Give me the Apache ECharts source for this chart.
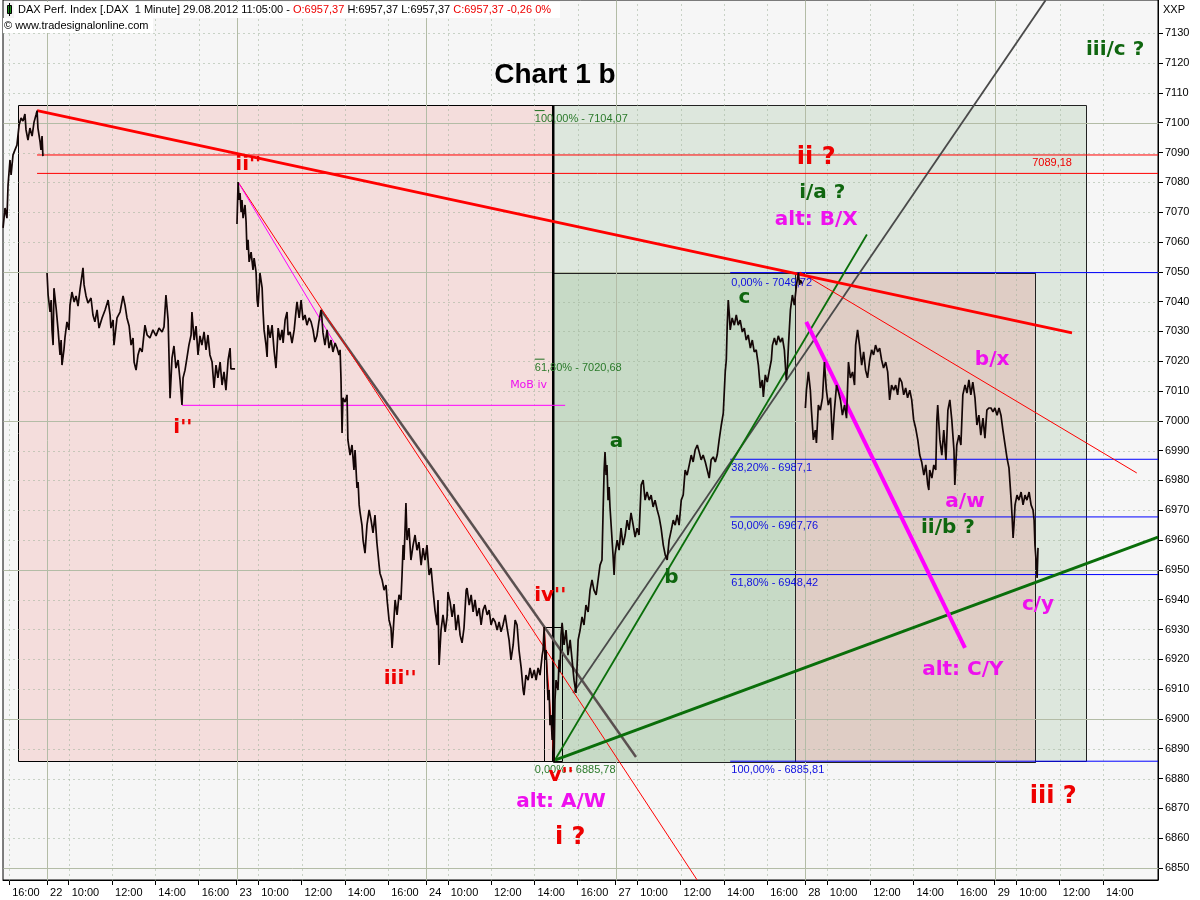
<!DOCTYPE html>
<html><head><meta charset="utf-8">
<script src="https://cdn.jsdelivr.net/npm/echarts@6/dist/echarts.min.js"></script>
<style>html,body{margin:0;padding:0;background:#fff}#c{width:1200px;height:900px}</style>
</head><body><div id="c"></div>
<script>
// ---- time scale: trading hours since 21.08 09:00, one session = 8.75 h ----
const SESSION = 8.75;
const sessionDays = ['21','22','23','24','27','28','29'];
function toT(s){const [d,hm]=s.split(' ');const [h,m]=hm.split(':').map(Number);return sessionDays.indexOf(d)*SESSION+h+m/60-9;}

const xTickTimes = ['21 16:00','22 09:00','22 10:00','22 12:00','22 14:00','22 16:00','23 09:00','23 10:00','23 12:00','23 14:00','23 16:00','24 09:00','24 10:00','24 12:00','24 14:00','24 16:00','27 09:00','27 10:00','27 12:00','27 14:00','27 16:00','28 09:00','28 10:00','28 12:00','28 14:00','28 16:00','29 09:00','29 10:00','29 12:00','29 14:00'];
const xTickLabels = ['16:00','22','10:00','12:00','14:00','16:00','23','10:00','12:00','14:00','16:00','24','10:00','12:00','14:00','16:00','27','10:00','12:00','14:00','16:00','28','10:00','12:00','14:00','16:00','29','10:00','12:00','14:00'];
const yTicks = [6850,6860,6870,6880,6890,6900,6910,6920,6930,6940,6950,6960,6970,6980,6990,7000,7010,7020,7030,7040,7050,7060,7070,7080,7090,7100,7110,7120,7130];

const T_MIN = 6.717, T_MAX = 60.04, P_MIN = 6845.96, P_MAX = 7141.17;

// ---- price (t = trading hours, price) ----
const price21 = [[6.72,7064.7],[6.81,7071.4],[6.90,7068.0],[6.95,7079.1],[7.04,7087.5],[7.09,7082.5],[7.18,7089.2],[7.27,7090.9],[7.36,7092.5],[7.46,7099.2],[7.55,7101.6],[7.64,7100.6],[7.73,7102.9],[7.78,7097.6],[7.87,7094.2],[7.96,7098.2],[8.06,7095.5],[8.15,7100.2],[8.24,7102.6],[8.29,7104.07],[8.33,7098.2],[8.43,7093.5],[8.47,7090.9],[8.52,7095.5],[8.56,7088.8]];
const price22 = [[8.75,7049.6],[8.80,7042.2],[8.89,7036.5],[8.94,7040.5],[8.98,7030.5],[9.03,7025.4],[9.07,7044.5],[9.17,7037.8],[9.26,7030.5],[9.35,7022.1],[9.40,7027.1],[9.44,7018.7],[9.53,7023.8],[9.58,7028.1],[9.67,7033.2],[9.76,7030.5],[9.81,7038.8],[9.90,7043.2],[10.00,7039.9],[10.09,7041.9],[10.18,7038.5],[10.27,7043.9],[10.41,7051.3],[10.46,7045.6],[10.55,7041.9],[10.64,7039.5],[10.78,7041.2],[10.87,7035.5],[10.96,7033.2],[11.06,7037.2],[11.15,7031.1],[11.29,7034.5],[11.43,7037.2],[11.57,7040.5],[11.66,7035.5],[11.70,7031.1],[11.80,7033.8],[11.84,7025.4],[11.98,7034.5],[12.12,7036.5],[12.26,7041.9],[12.35,7038.8],[12.44,7034.5],[12.54,7031.8],[12.63,7025.4],[12.72,7027.8],[12.77,7019.7],[12.86,7017.0],[12.95,7022.1],[13.04,7024.4],[13.14,7023.1],[13.27,7032.1],[13.37,7028.8],[13.50,7027.8],[13.64,7030.5],[13.78,7028.5],[13.92,7031.1],[14.06,7029.8],[14.15,7031.5],[14.24,7042.2],[14.34,7033.8],[14.43,7007.6],[14.52,7021.1],[14.61,7025.1],[14.70,7017.7],[14.80,7020.4],[14.89,7013.7],[14.98,7005.3],[15.03,7014.4],[15.12,7017.0],[15.21,7021.1],[15.30,7025.4],[15.40,7028.8],[15.44,7036.5],[15.54,7027.1],[15.63,7031.8],[15.72,7022.1],[15.81,7028.5],[15.90,7025.4],[16.00,7029.8],[16.09,7023.8],[16.18,7028.8],[16.27,7022.1],[16.37,7019.7],[16.46,7011.0],[16.55,7018.7],[16.64,7014.4],[16.74,7019.7],[16.83,7012.0],[16.92,7016.4],[17.01,7010.3],[17.11,7020.4],[17.20,7024.4],[17.24,7017.4],[17.43,7017.4]];
const price23_24 = [[17.52,7066.0],[17.57,7080.1],[17.62,7074.1],[17.66,7076.4],[17.71,7070.0],[17.75,7074.1],[17.80,7068.0],[17.89,7072.4],[17.94,7066.7],[17.98,7057.3],[18.03,7060.7],[18.08,7053.3],[18.17,7056.6],[18.26,7050.6],[18.31,7054.6],[18.40,7049.9],[18.45,7040.5],[18.49,7038.2],[18.54,7043.9],[18.58,7049.6],[18.68,7044.6],[18.72,7037.2],[18.77,7030.5],[18.86,7025.4],[18.91,7021.4],[18.95,7032.1],[19.05,7027.8],[19.14,7032.1],[19.23,7023.8],[19.32,7017.7],[19.42,7031.1],[19.51,7027.1],[19.60,7030.5],[19.65,7026.1],[19.74,7033.8],[19.83,7036.5],[19.88,7028.8],[19.97,7029.8],[20.06,7026.1],[20.16,7030.5],[20.25,7037.2],[20.29,7039.9],[20.39,7034.5],[20.48,7040.5],[20.57,7033.8],[20.66,7035.5],[20.75,7032.1],[20.85,7034.5],[20.94,7033.2],[21.03,7030.5],[21.12,7026.4],[21.21,7028.5],[21.30,7033.2],[21.40,7037.2],[21.44,7034.5],[21.49,7029.5],[21.58,7025.4],[21.68,7030.5],[21.77,7024.4],[21.86,7027.1],[21.95,7023.1],[22.05,7026.1],[22.14,7024.4],[22.23,7022.1],[22.28,7023.8],[22.32,7014.4],[22.37,6995.9],[22.41,7007.7],[22.51,7006.3],[22.60,7008.7],[22.64,6993.6],[22.74,6988.5],[22.83,6991.9],[22.92,6983.5],[22.97,6990.2],[23.06,6977.5],[23.11,6979.5],[23.16,6971.8],[23.20,6969.4],[23.29,6965.0],[23.34,6960.0],[23.43,6955.6],[23.52,6965.0],[23.62,6970.1],[23.71,6966.7],[23.80,6962.4],[23.89,6968.4],[23.98,6959.0],[24.08,6951.6],[24.12,6948.9],[24.22,6946.6],[24.31,6943.2],[24.40,6944.9],[24.45,6939.9],[24.54,6933.2],[24.63,6930.5],[24.68,6923.8],[24.72,6928.1],[24.82,6939.9],[24.91,6934.9],[25.00,6941.6],[25.09,6939.9],[25.14,6948.3],[25.19,6958.3],[25.23,6953.3],[25.32,6972.4],[25.37,6960.0],[25.46,6964.0],[25.55,6953.3],[25.65,6958.3],[25.74,6961.7],[25.83,6956.6],[25.92,6959.3],[26.02,6951.6],[26.11,6957.3],[26.20,6953.3],
[26.29,6958.3],[26.39,6948.3],[26.48,6950.6],[26.57,6943.2],[26.66,6936.5],[26.76,6931.5],[26.80,6939.9],[26.85,6918.1],[26.94,6929.8],[27.03,6934.9],[27.13,6929.2],[27.22,6934.2],[27.26,6942.6],[27.36,6939.2],[27.45,6934.2],[27.54,6938.5],[27.63,6929.8],[27.73,6934.9],[27.82,6928.1],[27.91,6925.5],[28.00,6930.5],[28.10,6943.2],[28.14,6943.9],[28.24,6938.2],[28.33,6941.6],[28.42,6935.9],[28.51,6939.9],[28.60,6934.5],[28.70,6937.2],[28.79,6931.5],[28.88,6936.5],[28.97,6938.2],[29.07,6934.9],[29.16,6936.5],[29.25,6931.5],[29.34,6933.8],[29.44,6932.5],[29.53,6929.8],[29.62,6932.5],[29.71,6929.2],[29.80,6931.5],[29.90,6934.9],[29.99,6930.5],[30.08,6926.5],[30.17,6919.8],[30.27,6924.8],[30.36,6933.2],[30.45,6931.5],[30.54,6923.1],[30.64,6917.1],[30.73,6909.7],[30.77,6908.0],[30.86,6914.7],[30.96,6913.0],[31.05,6917.1],[31.14,6913.7],[31.24,6916.4],[31.33,6913.0],[31.42,6917.1],[31.51,6914.7],[31.61,6921.4],[31.65,6923.1],[31.70,6930.8],[31.74,6919.8],[31.79,6923.1],[31.84,6913.0],[31.88,6906.3],[31.93,6909.7],[31.97,6897.9],[32.02,6901.3],[32.07,6892.9],[32.11,6896.3],[32.16,6885.8],[32.20,6906.3],[32.25,6913.0],[32.34,6909.7],[32.39,6919.8],[32.43,6915.7],[32.48,6928.1],[32.53,6932.2],[32.62,6924.8],[32.71,6929.8],[32.80,6921.4],[32.90,6926.5],[32.99,6919.8],[33.08,6913.0],[33.17,6908.7],[33.27,6926.5],[33.36,6929.8],[33.45,6934.2],[33.54,6931.5],[33.63,6938.2],[33.73,6935.9],[33.82,6943.2],[33.91,6946.6],[34.00,6943.2],[34.10,6941.6],[34.19,6946.6],[34.28,6951.6],[34.37,6953.3],[34.42,6969.1],[34.47,6983.5],[34.51,6989.5],[34.56,6981.8],[34.60,6985.2],[34.65,6973.4],[34.70,6977.8],[34.74,6971.1],[34.83,6971.1]];
const price27 = [[34.88,6955.0],[34.93,6948.3],[34.97,6955.0],[35.07,6960.0],[35.16,6956.6],[35.25,6964.0],[35.34,6958.3],[35.44,6961.7],[35.53,6966.7],[35.62,6963.4],[35.71,6969.1],[35.81,6965.0],[35.90,6961.0],[35.99,6964.0],[36.08,6961.7],[36.18,6978.5],[36.27,6980.1],[36.36,6973.4],[36.45,6976.1],[36.55,6973.4],[36.64,6975.1],[36.73,6971.1],[36.82,6973.4],[36.92,6970.1],[37.01,6967.7],[37.10,6964.0],[37.20,6958.3],[37.29,6955.0],[37.38,6953.3],[37.47,6960.0],[37.57,6963.4],[37.66,6966.7],[37.75,6965.0],[37.84,6968.4],[37.93,6965.0],[38.03,6973.4],[38.12,6975.1],[38.21,6983.5],[38.30,6981.8],[38.40,6985.2],[38.49,6988.5],[38.58,6986.2],[38.67,6990.2],[38.77,6991.9],[38.86,6989.5],[38.95,6986.9],[39.04,6988.5],[39.14,6986.2],[39.23,6983.5],[39.32,6980.8],[39.41,6986.9],[39.51,6987.9],[39.60,6986.2],[39.69,6988.5],[39.78,6993.6],[39.88,6998.6],[39.97,7002.6],[40.06,7016.4],[40.11,7020.4],[40.15,7031.5],[40.20,7040.5],[40.25,7035.5],[40.29,7030.5],[40.38,7034.5],[40.48,7032.1],[40.57,7035.5],[40.66,7032.1],[40.75,7033.8],[40.85,7029.8],[40.94,7031.1],[41.03,7027.1],[41.12,7028.8],[41.22,7024.4],[41.31,7027.1],[41.40,7023.1],[41.49,7023.8],[41.59,7018.7],[41.68,7011.0],[41.77,7013.7],[41.82,7008.0],[41.91,7015.4],[42.00,7013.0],[42.10,7017.0],[42.19,7020.4],[42.24,7025.4],[42.33,7027.8],[42.42,7025.4],[42.51,7028.5],[42.61,7026.4],[42.70,7027.8],[42.79,7023.8],[42.88,7013.7],[42.93,7017.7],[42.98,7025.4],[43.07,7037.2],[43.16,7042.2],[43.25,7038.8],[43.35,7045.6],[43.44,7049.72],[43.49,7045.6],[43.53,7047.2],[43.63,7045.9]];
const price28_29 = [[43.76,7004.3],[43.81,7010.3],[43.90,7016.4],[43.99,7010.3],[44.04,7003.6],[44.13,6993.6],[44.22,6996.9],[44.27,6992.6],[44.36,7005.3],[44.45,7003.6],[44.55,7007.7],[44.64,7019.7],[44.73,7010.3],[44.82,7005.3],[44.92,7007.7],[45.01,6993.6],[45.10,7003.6],[45.20,7012.0],[45.29,7009.7],[45.38,7007.0],[45.47,7001.9],[45.57,7005.3],[45.66,7000.9],[45.75,7019.7],[45.84,7014.4],[45.94,7016.4],[46.03,7012.0],[46.08,7025.4],[46.17,7030.5],[46.26,7025.4],[46.36,7018.7],[46.45,7023.1],[46.54,7017.0],[46.63,7014.4],[46.73,7020.4],[46.82,7023.8],[46.91,7022.1],[47.00,7025.4],[47.10,7023.1],[47.19,7024.4],[47.28,7020.4],[47.37,7017.7],[47.47,7019.7],[47.56,7016.4],[47.65,7007.0],[47.74,7012.0],[47.84,7010.3],[47.93,7012.0],[48.02,7008.7],[48.11,7014.4],[48.21,7013.0],[48.30,7008.7],[48.39,7011.0],[48.48,7007.7],[48.58,7010.3],[48.67,7007.0],[48.76,7000.3],[48.85,6997.6],[48.95,6993.6],[49.04,6988.5],[49.13,6986.2],[49.23,6981.8],[49.32,6985.2],[49.41,6978.5],[49.46,6976.8],[49.50,6983.5],[49.60,6980.8],[49.69,6985.2],[49.78,6983.5],[49.83,7000.3],[49.87,7005.3],[49.97,6993.6],[50.06,6988.5],[50.15,6996.9],[50.25,6986.9],[50.34,7003.6],[50.43,7007.0],[50.52,7000.3],[50.62,6990.2],[50.66,6978.5],[50.75,6991.9],[50.85,6995.2],[50.94,6991.9],[51.03,7008.7],[51.13,7012.0],[51.22,7009.3],[51.31,7013.7],[51.40,7008.7],[51.49,7013.0],[51.59,7007.7],[51.68,6998.6],[51.77,7001.9],[51.86,6995.2],[51.96,7000.9],[52.05,6994.2],[52.14,7003.6],[52.23,7004.3],
[52.33,7004.3],[52.42,7003.0],[52.51,7004.3],[52.61,7001.9],[52.70,7004.3],[52.79,7001.9],[52.88,6996.9],[52.98,6991.9],[53.07,6987.5],[53.16,6984.2],[53.26,6973.4],[53.30,6968.4],[53.35,6960.7],[53.39,6965.0],[53.44,6971.8],[53.53,6975.1],[53.62,6973.4],[53.72,6976.1],[53.81,6971.8],[53.90,6975.1],[53.99,6973.4],[54.09,6976.1],[54.18,6971.8],[54.27,6970.1],[54.32,6966.7],[54.36,6958.3],[54.41,6953.3],[54.46,6947.3],[54.50,6957.37]];

// ---- boxes [t1, p1, t2, p2] ----
const pinkBox = [7.41, 7105.9, 32.12, 6885.8];
const greenOuterBox = [32.12, 7105.9, 56.75, 6885.8];
const greenInnerBox = [32.12, 7049.72, 54.36, 6885.8];
const brownBox = [43.28, 7049.72, 54.36, 6885.8];
const ivBox = [31.70, 6930.8, 32.53, 6885.8];

// ---- drawn lines ----
const dividerLine = [[32.12,7105.9],[32.12,6885.8]];
const redTrend = [[8.29,7104.07],[56.07,7029.5]];
const redLevelA = [[8.29,7089.18],[60.04,7089.18]];
const redLevelB = [[8.29,7083.0],[60.04,7083.0]];
const mobLine = [[14.98,7005.2],[32.67,7005.2]];
const redFan = [[17.57,7080.1],[38.76,6846.0]];
const magentaFan = [[17.57,7080.1],[22.15,7024.5]];
const grayDown = [[21.40,7037.2],[35.94,6887.2]];
const ivToV = [[31.70,6930.8],[32.16,6886.2]];
const greenUp = [[32.20,6886.2],[46.60,7062.5]];
const greenBase = [[32.20,6886.2],[60.04,6961.0]];
const grayUp = [[33.04,6908.7],[54.85,7141.1]];
const magentaCY = [[43.80,7033.2],[51.13,6923.8]];
const redThin2 = [[43.51,7049.9],[59.06,6982.5]];
const blueFibLevels = [7049.72, 6987.1, 6967.76, 6948.42, 6885.81];
const blueFibStart = 40.29;
const greenFibLevels = [7104.07, 7020.68];
const greenFibSpan = [31.27, 31.72];

// ---- texts [text, t, price] ----
const blueFibLabels = [['0,00% - 7049,72',40.34,7046.2],['38,20% - 6987,1',40.34,6984.2],['50,00% - 6967,76',40.34,6964.7],['61,80% - 6948,42',40.34,6945.6],['100,00% - 6885,81',40.34,6882.9]];
const greenFibLabels = [['100,00% - 7104,07',31.27,7101.2],['61,80% - 7020,68',31.27,7017.7],['0,00% - 6885,78',31.27,6882.9]];
const redWaveLabels = [["ii''",18.04,7085.9],["i''",15.02,6997.6],["iii''",25.05,6913.4],["iv''",31.98,6941.2],["v''",32.48,6880.9]];
const redBigLabels = [['ii ?',44.26,7088.2],['i ?',32.90,6860.0],['iii ?',55.20,6873.8]];
const greenLetterLabels = [['a',35.04,6992.9],['b',37.58,6947.3],['c',40.95,7041.2]];
const greenLabels = [['i/a ?',44.54,7076.4],['iii/c ?',58.06,7124.4],['ii/b ?',50.34,6964.0]];
const magentaLabels = [['alt: B/X',44.26,7067.4],['alt: A/W',32.48,6872.1],['b/x',52.38,7020.4],['a/w',51.13,6972.8],['c/y',54.50,6938.2],['alt: C/Y',51.03,6916.4]];
const smallMagentaLabels = [['MoB iv',30.98,7012.0]];
const smallRedLabels = [['7089,18',55.15,7086.5]];
const titleLabels = [['Chart 1 b',32.20,7116.0]];

// ---------------- build ----------------
const chart = echarts.init(document.getElementById('c'), null, {renderer:'canvas', width:1200, height:900});
const xTickVals = xTickTimes.map(toT);

function rectSeries(box, fill, stroke, lw, z){
  return {type:'custom', silent:true, z, data:[box], encode:{x:[0,2], y:[1,3]},
    renderItem:(params, api)=>{
      const a=api.coord([api.value(0),api.value(1)]), b=api.coord([api.value(2),api.value(3)]);
      const x=Math.round(Math.min(a[0],b[0]))+0.5, y=Math.round(Math.min(a[1],b[1]))+0.5;
      return {type:'rect', shape:{x, y, width:Math.round(Math.abs(b[0]-a[0])), height:Math.round(Math.abs(b[1]-a[1]))}, style:{fill, stroke, lineWidth:lw}};
    }};
}
function seg(pts, color, width, z){
  return {type:'line', data:pts, symbol:'none', showSymbol:false, silent:true, z:z||6, clip:true, lineStyle:{color, width}};
}
function texts(items, color, size, weight, family, align, z){
  return {type:'custom', silent:true, z:z||20, data: items.map(d=>[d[1], d[2]]), encode:{x:0, y:1},
    renderItem:(params, api)=>{
      const p = api.coord([api.value(0), api.value(1)]);
      return {type:'text', x:p[0], y:p[1], style:{text: items[params.dataIndex][0], fill: color, fontSize:size, fontWeight:weight, fontFamily:family, align: align||'center', verticalAlign:'middle'}};
    }};
}

const gridData = [];
yTicks.forEach(v=>{ if (v%50!==0) gridData.push([T_MIN, v, T_MAX, v, 0]); });
yTicks.forEach(v=>{ if (v%50===0) gridData.push([T_MIN, v, T_MAX, v, 1]); });
xTickVals.forEach((t,i)=>{ gridData.push([t, P_MIN, t, P_MAX, /^\d+$/.test(xTickLabels[i]) ? 1 : 0]); });

const gridSeries = {type:'custom', silent:true, z:5, data:gridData, encode:{x:[0,2], y:[1,3]},
  renderItem:(params, api)=>{
    const a=api.coord([api.value(0),api.value(1)]), b=api.coord([api.value(2),api.value(3)]);
    const solid = api.value(4)===1;
    const x1=Math.round(a[0])+0.5, x2=Math.round(b[0])+0.5, y1=Math.round(a[1])+0.5, y2=Math.round(b[1])+0.5;
    return {type:'line', shape:{x1, y1, x2, y2}, style:{stroke: solid?'#b3bca6':'#9aae96', lineWidth:1, lineDash: solid?null:[1,4]}};
  }};

const blueFibSeries = blueFibLevels.map(v=>seg([[blueFibStart,v],[T_MAX,v]], '#0000ff', 1, 7));
const greenFibSeries = greenFibLevels.map(v=>seg([[greenFibSpan[0],v],[greenFibSpan[1],v]], '#1e6e1e', 1, 7));

const priceData = [].concat(price21, [[8.65,null]], price22, [[17.48,null]], price23_24, price27, [[43.70,null]], price28_29);

const series = [
  rectSeries(pinkBox, '#f4dddc', '#000', 1, 1),
  rectSeries(greenOuterBox, '#dde7dd', '#222', 1, 2),
  rectSeries(greenInnerBox, '#c7dac6', '#222', 1, 3),
  rectSeries(brownBox, '#dfcdc5', '#222', 1, 4),
  rectSeries(ivBox, 'rgba(0,0,0,0)', '#000', 1, 4),
  gridSeries,
  seg(dividerLine, '#000', 2.5, 6),
  seg(redLevelA, '#ff0000', 1, 7),
  seg(redLevelB, '#ff0000', 1, 7),
  seg(mobLine, '#ff00ff', 1, 7),
  ...blueFibSeries,
  ...greenFibSeries,
  seg(grayDown, '#5a5050', 2.5, 8),
  seg(grayUp, '#4a4a4a', 1.8, 8),
  seg(redFan, '#ff0000', 1, 8),
  seg(magentaFan, '#ff00ff', 1, 8),
  seg(ivToV, '#ff0000', 1, 8),
  seg(greenUp, '#0a6e0a', 1.8, 8),
  seg(greenBase, '#0a6e0a', 3, 8),
  seg(redThin2, '#ff0000', 1, 8),
  seg(redTrend, '#ff0000', 3, 9),
  seg(magentaCY, '#ff00ff', 4, 9),
  {type:'line', data:priceData, symbol:'none', showSymbol:false, silent:true, z:10, connectNulls:false, clip:true, sampling:false, lineStyle:{color:'#140606', width:1.7}},
  texts(blueFibLabels, '#1010e0', 11, 'normal', 'Liberation Sans', 'left', 12),
  texts(greenFibLabels, '#2a7a2a', 11, 'normal', 'Liberation Sans', 'left', 12),
  texts(redWaveLabels, '#ee0000', 20, 'bold', 'DejaVu Sans'),
  texts(redBigLabels, '#ee0000', 24, 'bold', 'DejaVu Sans'),
  texts(greenLetterLabels, '#0f660f', 20, 'bold', 'DejaVu Sans'),
  texts(greenLabels, '#0f660f', 20, 'bold', 'DejaVu Sans'),
  texts(magentaLabels, '#ee10ee', 20, 'bold', 'DejaVu Sans'),
  texts(smallMagentaLabels, '#ee10ee', 11, 'normal', 'DejaVu Sans'),
  texts(smallRedLabels, '#ee0000', 11, 'normal', 'Liberation Sans'),
  texts(titleLabels, '#000', 28, 'bold', 'Liberation Sans')
];

const option = {
  animation:false,
  backgroundColor:'#ffffff',
  grid:{left:3, right:42, top:0, bottom:20, show:true, backgroundColor:'#f6f6f6', borderColor:'#000', borderWidth:1, containLabel:false},
  xAxis:{type:'value', min:T_MIN, max:T_MAX, position:'bottom',
    axisLine:{show:true, onZero:false, lineStyle:{color:'#000', width:1}},
    axisTick:{show:true, customValues:xTickVals, length:5, lineStyle:{color:'#000'}},
    axisLabel:{show:true, customValues:xTickVals, align:'left', margin:7, padding:[0,0,0,3], color:'#000', fontSize:11, fontFamily:'Liberation Sans',
      formatter:(v)=>{const i=xTickVals.findIndex(t=>Math.abs(t-v)<1e-6); return i>=0?xTickLabels[i]:'';}},
    splitLine:{show:false}},
  yAxis:{type:'value', min:P_MIN, max:P_MAX, position:'right',
    axisLine:{show:true, lineStyle:{color:'#000', width:1}},
    axisTick:{show:true, customValues:yTicks, length:5, lineStyle:{color:'#000'}},
    axisLabel:{show:true, customValues:yTicks, margin:7, color:'#000', fontSize:11, fontFamily:'Liberation Sans', formatter:(v)=>String(v)},
    splitLine:{show:false}},
  graphic:[
    {type:'rect', z:100, shape:{x:14, y:2, width:546, height:16}, style:{fill:'#ffffff'}},
    {type:'rect', z:100, shape:{x:3, y:18, width:150, height:15}, style:{fill:'#ffffff'}},
    {type:'rect', z:101, shape:{x:7.5, y:5.5, width:4, height:8}, style:{fill:'#1a8a1a', stroke:'#000', lineWidth:1}},
    {type:'line', z:101, shape:{x1:9.5, y1:3, x2:9.5, y2:16}, style:{stroke:'#000', lineWidth:1}},
    {type:'text', z:102, x:18, y:4, style:{text:'{k|DAX Perf. Index [.DAX  1 Minute] 29.08.2012 11:05:00 - }{r|O:6957,37}{k| H:6957,37 L:6957,37 }{r|C:6957,37 -0,26 0%}',
      rich:{k:{fill:'#000', fontSize:11, fontFamily:'Liberation Sans'}, r:{fill:'#ee0000', fontSize:11, fontFamily:'Liberation Sans'}}}},
    {type:'text', z:102, x:4, y:20, style:{text:'© www.tradesignalonline.com', fill:'#000', font:'11px "Liberation Sans"'}},
    {type:'text', z:102, x:1163, y:4, style:{text:'XXP', fill:'#000', font:'11px "Liberation Sans"'}}
  ],
  series
};
chart.setOption(option);
</script></body></html>
